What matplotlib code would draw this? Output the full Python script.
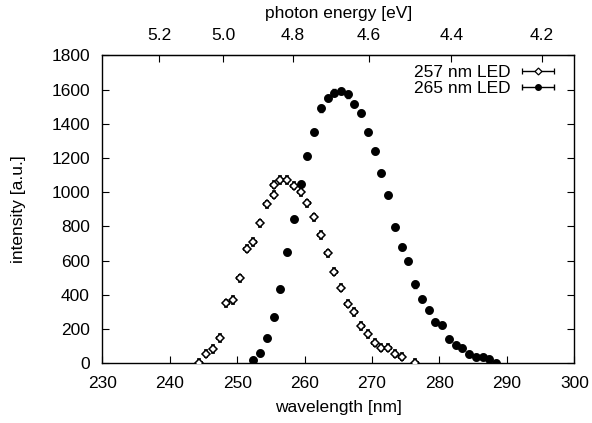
import numpy as np
import matplotlib
matplotlib.use("Agg")
import matplotlib.pyplot as plt
from matplotlib.legend_handler import HandlerErrorbar

plt.rcParams['font.family'] = ['Liberation Sans', 'DejaVu Sans']
plt.rcParams['font.size'] = 12.5

# 257 nm LED spectrum
wl_257 = [244.4, 245.4, 246.4, 247.4, 248.4, 249.4, 250.4, 251.4, 252.4, 253.4,
          254.4, 255.4, 255.4, 256.4, 257.4, 258.4, 259.4, 260.4, 261.4, 262.4,
          263.4, 264.4, 265.4, 266.4, 267.4, 268.4, 269.4, 270.4, 271.4, 272.4,
          273.4, 274.4, 276.4]
int_257 = [2, 54, 82, 146, 349, 369, 495, 669, 708, 817,
           930, 985, 1043, 1071, 1071, 1037, 1000, 934, 852, 749,
           642, 535, 442, 348, 299, 217, 170, 120, 90, 90,
           54, 38, 2]

# 265 nm LED spectrum
wl_265 = [252.4, 253.4, 254.4, 255.4, 256.4, 257.4, 258.4, 259.4, 260.4, 261.4,
          262.4, 263.4, 264.4, 265.4, 266.4, 267.4, 268.4, 269.4, 270.4, 271.4,
          272.4, 273.4, 274.4, 275.4, 276.4, 277.4, 278.4, 279.4, 280.4, 281.4,
          282.4, 283.4, 284.4, 285.4, 286.4, 287.4, 288.4]
int_265 = [18, 60, 148, 267, 433, 650, 842, 1047, 1213, 1352,
           1490, 1552, 1583, 1593, 1572, 1518, 1461, 1352, 1242, 1110,
           982, 798, 681, 597, 460, 375, 309, 240, 222, 139,
           103, 86, 53, 37, 37, 21, 2]

x_ticks = [230, 240, 250, 260, 270, 280, 290, 300]
y_ticks = [0, 200, 400, 600, 800, 1000, 1200, 1400, 1600, 1800]
energy_ticks = [5.2, 5.0, 4.8, 4.6, 4.4, 4.2]
energy_labels = ["5.2", "5.0", "4.8", "4.6", "4.4", "4.2"]

HC = 1239.84

fig = plt.figure(figsize=(5.92, 4.23), dpi=100)
ax = fig.add_axes([0.1728, 0.1418, 0.7973, 0.727])

ax.errorbar(wl_257, int_257, xerr=0.35, yerr=21, fmt='D', ms=3.8, mfc='white',
            mec='black', mew=1.1, ecolor='black', elinewidth=1.1, capsize=1.5,
            capthick=1.0, color='black', zorder=3)
ax.errorbar(wl_265, int_265, xerr=0.3, yerr=18, fmt='o', ms=5.4, mfc='black',
            mec='black', ecolor='black', elinewidth=1.0, capsize=1.5,
            color='black', zorder=3)

# legend handles (horizontal error bar samples)
h1 = ax.errorbar([np.nan], [np.nan], xerr=[1], fmt='D', ms=3.5, mfc='white',
                 mec='black', mew=0.9, ecolor='black', elinewidth=1.0,
                 capsize=2.5, color='black', label='257 nm LED')
h2 = ax.errorbar([np.nan], [np.nan], xerr=[1], fmt='o', ms=4, mfc='black',
                 mec='black', ecolor='black', elinewidth=1.0, capsize=2.5,
                 color='black', label='265 nm LED')
ax.legend(handles=[h1, h2], loc='upper right', frameon=False, markerfirst=False,
          handler_map={type(h1): HandlerErrorbar(xerr_size=0.9)},
          handlelength=1.9, handletextpad=0.6, borderaxespad=0, borderpad=0,
          bbox_to_anchor=(0.958, 0.97), labelspacing=0.08, fontsize=12.5)

ax.set_xlim(230, 300)
ax.set_ylim(0, 1800)
ax.set_xticks(x_ticks)
ax.set_yticks(y_ticks)
ax.tick_params(direction='in', length=5, width=0.8, right=True, top=False)
ax.tick_params(axis='x', pad=9)
ax.tick_params(axis='y', pad=9)
ax.set_xlabel('wavelength [nm]', labelpad=7)
ax.set_ylabel('intensity [a.u.]', labelpad=18)

sec = ax.secondary_xaxis('top', functions=(lambda x: HC / x, lambda e: HC / e))
sec.set_xticks(energy_ticks)
sec.set_xticklabels(energy_labels)
sec.tick_params(direction='in', length=5, width=0.8, pad=9)
sec.set_xlabel('photon energy [eV]', labelpad=7)

for s in ax.spines.values():
    s.set_linewidth(1.0)

fig.savefig('out.png', dpi=100)
